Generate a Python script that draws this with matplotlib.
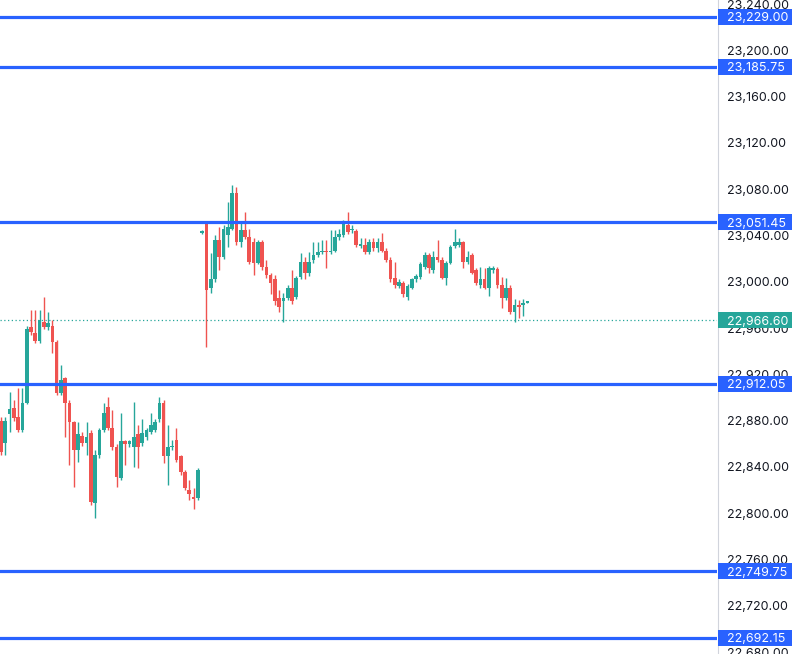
import matplotlib
matplotlib.use("Agg")
import matplotlib.pyplot as plt
from matplotlib.patches import Rectangle
import matplotlib.transforms as mtransforms
import numpy as np

plt.rcParams["font.family"] = ["Inter", "DejaVu Sans"]

# ---- data ----
opens = [22880, 22861, 22886, 22891, 22883, 22872, 22895, 22961, 22956, 22949,
         22965, 22961, 22962, 22948, 22904, 22917, 22895, 22879, 22855, 22867,
         22861, 22869, 22809, 22850, 22872, 22892, 22874, 22857, 22830, 22862,
         22860, 22857, 22868, 22861, 22866, 22870, 22872, 22881, 22895, 22849,
         22857, 22863, 22849, 22836, 22820, 22814, 22813,
         23042, 23052, 22995, 23002, 23036, 23021, 23040, 23046, 23077, 23034,
         23045, 23039, 23034, 23016, 23034, 23013, 23006, 23002, 22986, 22983,
         22986, 22995, 22987, 23004, 23017, 23008, 23019, 23023, 23026, 23027,
         23026, 23027, 23039, 23040, 23049, 23045, 23044, 23031, 23032, 23026,
         23034, 23029, 23034, 23027, 23019, 23003, 22996, 22999, 22987, 22995,
         23002, 23004, 23013, 23023, 23010, 23021, 23019, 23003, 23016, 23031,
         23032, 23034, 23017, 23023, 23010, 22997, 23002, 22995, 23010, 23011,
         22997, 22986, 22995, 22974, 22980, 22980, 22982]
highs = [22883, 22883, 22905, 22898, 22908, 22908, 22962, 22976, 22976, 22976,
         22987, 22974, 22967, 22950, 22928, 22918, 22898, 22880, 22879, 22870,
         22879, 22872, 22855, 22874, 22895, 22900, 22889, 22860, 22887, 22863,
         22863, 22896, 22876, 22881, 22874, 22887, 22881, 22900, 22898, 22876,
         22863, 22874, 22850, 22837, 22829, 22822, 22839,
         23045, 23052, 23025, 23040, 23047, 23049, 23069, 23084, 23082, 23052,
         23060, 23046, 23038, 23036, 23036, 23019, 23008, 23006, 22993, 22990,
         22997, 23010, 23005, 23025, 23021, 23026, 23034, 23034, 23036, 23036,
         23045, 23045, 23046, 23053, 23060, 23049, 23046, 23038, 23038, 23037,
         23038, 23038, 23042, 23029, 23021, 23017, 23002, 23001, 22998, 23003,
         23007, 23017, 23026, 23025, 23027, 23036, 23021, 23018, 23032, 23046,
         23038, 23035, 23027, 23025, 23012, 23013, 23012, 23014, 23014, 23013,
         23004, 23003, 22997, 22985, 22984, 22985, 22983]
lows = [22850, 22850, 22870, 22880, 22870, 22870, 22894, 22954, 22947, 22947,
        22959, 22958, 22938, 22902, 22902, 22866, 22842, 22823, 22844, 22858,
        22850, 22807, 22796, 22848, 22870, 22872, 22855, 22823, 22829, 22842,
        22857, 22840, 22839, 22858, 22863, 22868, 22870, 22879, 22843, 22824,
        22855, 22844, 22833, 22820, 22811, 22804, 22811,
        23041, 22944, 22990, 23000, 23010, 23020, 23030, 23045, 23032, 23030,
        23037, 23015, 23006, 23015, 23010, 23003, 22989, 22980, 22974, 22965,
        22984, 22981, 22985, 23002, 23002, 23005, 23016, 23021, 23024, 23012,
        23024, 23026, 23036, 23039, 23041, 23042, 23030, 23029, 23024, 23024,
        23027, 23026, 23026, 23017, 23000, 22995, 22995, 22987, 22984, 22994,
        23000, 23002, 23011, 23008, 23008, 23017, 23002, 22997, 23015, 23029,
        23030, 23012, 23015, 23007, 22997, 22995, 22994, 22988, 23008, 22995,
        22977, 22984, 22972, 22965, 22969, 22970, 22982]
closes = [22853, 22880, 22890, 22882, 22872, 22895, 22959, 22957, 22949, 22967,
          22961, 22964, 22948, 22904, 22915, 22895, 22879, 22855, 22868, 22861,
          22866, 22810, 22850, 22872, 22887, 22874, 22857, 22831, 22862, 22860,
          22862, 22866, 22857, 22869, 22872, 22876, 22879, 22895, 22849, 22857,
          22858, 22846, 22836, 22822, 22817, 22812, 22837,
          23044, 22993, 23002, 23036, 23021, 23046, 23047, 23077, 23034, 23045,
          23039, 23017, 23016, 23034, 23013, 23006, 22999, 22983, 22978, 22986,
          22995, 22983, 23003, 23017, 23008, 23017, 23023, 23026, 23027, 23026,
          23027, 23039, 23041, 23052, 23043, 23046, 23032, 23033, 23026, 23034,
          23029, 23034, 23027, 23019, 23002, 22997, 23000, 22989, 22996, 23002,
          23005, 23015, 23023, 23012, 23021, 23019, 23003, 23016, 23030, 23034,
          23034, 23017, 23021, 23008, 22999, 23002, 22995, 23012, 23012, 22997,
          22986, 22995, 22974, 22980, 22978, 22982, 22983]

level_prices = [23229.00, 23185.75, 23051.45, 22912.05, 22749.75, 22692.15]
last_price = 22966.60
tick_values = list(range(22680, 23241, 40))

# ---- style ----
W, H = 800, 654
AX_RIGHT_PX = 717
UP = "#26a69a"
DOWN = "#ef5350"
BLUE = "#2962ff"
TEXT = "#131722"
SPACING_PX = 4.28
Y_TOP, Y_BOT = 23243.5, 22678.3
FS = 9.0

fig = plt.figure(figsize=(W / 100, H / 100), dpi=100)
ax = fig.add_axes([0, 0, AX_RIGHT_PX / W, 1])
ax.set_facecolor("white")

n = len(opens)
x = np.arange(n)
o = np.array(opens, float)
c = np.array(closes, float)
h = np.array(highs, float)
l = np.array(lows, float)
cols = [UP if cc >= oo else DOWN for oo, cc in zip(o, c)]

ax.vlines(x, l, h, colors=cols, linewidth=1.0, zorder=2)
bottoms = np.minimum(o, c)
heights = np.maximum(np.abs(c - o), 0.9)
ax.bar(x, heights, bottom=bottoms, width=0.86, color=cols, linewidth=0, zorder=3)

for p in level_prices:
    ax.axhline(p, color=BLUE, linewidth=2.3, zorder=4)
ax.axhline(last_price, color=UP, linewidth=0.9, linestyle=(0, (1, 2)), zorder=1)

left_slot = -1.0 / SPACING_PX
right_slot = left_slot + AX_RIGHT_PX / SPACING_PX
ax.set_xlim(left_slot, right_slot)
ax.set_ylim(Y_BOT, Y_TOP)

for s in ax.spines.values():
    s.set_visible(False)
ax.set_xticks([])
ax.yaxis.tick_right()
ax.set_yticks(tick_values)
ax.set_yticklabels([f"{v:,.2f}" for v in tick_values])
ax.tick_params(axis="y", length=0, pad=7.5, labelsize=FS, labelcolor=TEXT)

# axis separator
fig.add_artist(plt.Line2D([AX_RIGHT_PX / W + 0.0008] * 2, [0, 1],
                          color="#d1d4dc", linewidth=0.8, transform=fig.transFigure))

# price boxes
trans = mtransforms.blended_transform_factory(fig.transFigure, ax.transData)
box_x0 = 718 / W
box_w = 74 / W
px_per_pt = H / (Y_TOP - Y_BOT)
box_h = 16 / px_per_pt


def price_box(price, color):
    r = Rectangle((box_x0, price - box_h / 2), box_w, box_h, transform=trans,
                  facecolor=color, edgecolor="none", clip_on=False, zorder=10)
    fig.add_artist(r)
    fig.text(727 / W, price, f"{price:,.2f}", transform=trans, color="white",
             fontsize=FS, va="center_baseline", ha="left", zorder=11)


for p in level_prices:
    price_box(p, BLUE)
price_box(last_price, UP)

fig.savefig("out.png", dpi=100, facecolor="white")
